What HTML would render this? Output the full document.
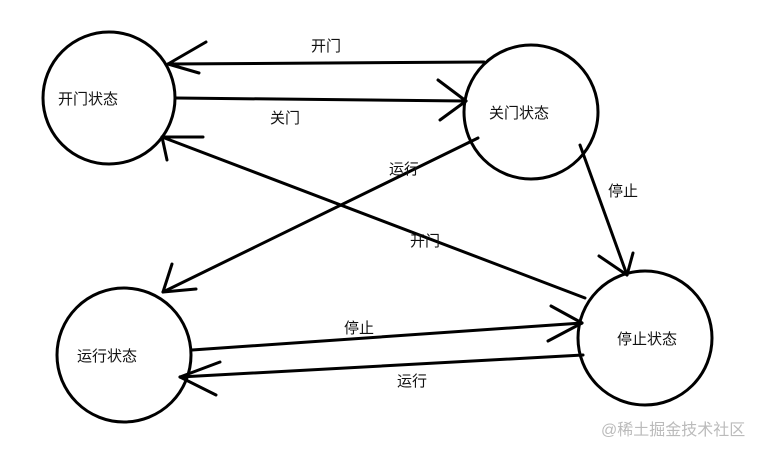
<!DOCTYPE html>
<html><head><meta charset="utf-8"><style>
html,body{margin:0;padding:0;background:#fff;}
text{font-family:"Liberation Sans","Noto Sans CJK SC",sans-serif;font-size:15px;fill:#111;}
</style></head><body>
<svg width="760" height="453" xmlns="http://www.w3.org/2000/svg">
<g fill="none" stroke="#000" stroke-width="3" stroke-linecap="round">
<circle cx="109" cy="98" r="66"/>
<circle cx="531" cy="112" r="67"/>
<circle cx="124" cy="355" r="67"/>
<circle cx="645" cy="338" r="67"/>
<line x1="168" y1="64" x2="484" y2="62"/>
<line x1="168" y1="64" x2="206" y2="42"/>
<line x1="168" y1="64" x2="199" y2="73"/>
<line x1="176" y1="98" x2="466" y2="101"/>
<line x1="466" y1="101" x2="438" y2="80"/>
<line x1="466" y1="101" x2="440" y2="120"/>
<line x1="585" y1="298" x2="162" y2="137"/>
<line x1="162" y1="137" x2="203" y2="137"/>
<line x1="162" y1="137" x2="167" y2="160"/>
<line x1="478" y1="138" x2="163" y2="292"/>
<line x1="163" y1="292" x2="172" y2="264"/>
<line x1="163" y1="292" x2="196" y2="289"/>
<line x1="580" y1="145" x2="627" y2="275"/>
<line x1="627" y1="275" x2="599" y2="256"/>
<line x1="627" y1="275" x2="633" y2="253"/>
<line x1="192" y1="350" x2="582" y2="323"/>
<line x1="582" y1="323" x2="551" y2="306"/>
<line x1="582" y1="323" x2="548" y2="341"/>
<line x1="583" y1="355" x2="180" y2="377"/>
<line x1="180" y1="377" x2="220" y2="362"/>
<line x1="180" y1="377" x2="216" y2="395"/>
</g>
<text x="58" y="104">开门状态</text>
<text x="489" y="118">关门状态</text>
<text x="77" y="361">运行状态</text>
<text x="617" y="344">停止状态</text>
<text x="311" y="51">开门</text>
<text x="270" y="123">关门</text>
<text x="389" y="174">运行</text>
<text x="410" y="246">开门</text>
<text x="608" y="196">停止</text>
<text x="344" y="333">停止</text>
<text x="397" y="386">运行</text>
<text x="601" y="435" style="fill:#bbb;font-size:16px">@稀土掘金技术社区</text>
</svg>
</body></html>
